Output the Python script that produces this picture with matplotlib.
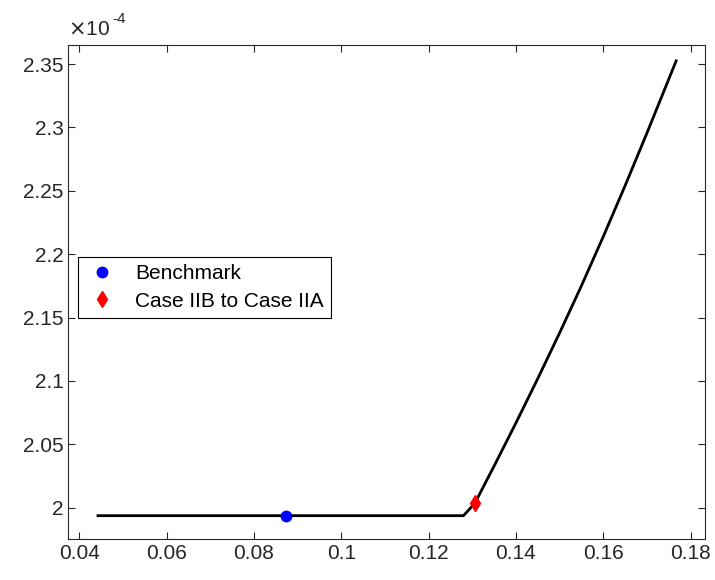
import matplotlib
matplotlib.use("Agg")
import matplotlib.pyplot as plt
from matplotlib.ticker import FormatStrFormatter

plt.rcParams['font.family'] = ['Liberation Sans', 'DejaVu Sans']

# curve data (y in units of 1e-4)
x_curve = [0.0443, 0.128, 0.1306, 0.135, 0.140, 0.145, 0.150, 0.155,
           0.160, 0.165, 0.170, 0.1767]
y_curve = [1.9937, 1.9937, 2.0035, 2.0328, 2.0668, 2.1018, 2.1378, 2.1750,
           2.2138, 2.2540, 2.2955, 2.3525]

# highlighted points
bench_x = [0.0873]
bench_y = [1.9937]
switch_x = [0.1306]
switch_y = [2.0035]

xticks = [0.04, 0.06, 0.08, 0.1, 0.12, 0.14, 0.16, 0.18]
yticks = [2.0, 2.05, 2.1, 2.15, 2.2, 2.25, 2.3, 2.35]

fig = plt.figure(figsize=(7.15, 5.8), dpi=100)
ax = fig.add_axes([0.0955, 0.0707, 0.8905, 0.8517])

ax.plot(x_curve, y_curve, color='black', linewidth=2.0, zorder=2)
ax.plot(bench_x, bench_y, 'o', color='blue', markersize=7.5, linestyle='none',
        label='Benchmark', zorder=3)
ax.plot(switch_x, switch_y, 'd', color='red', markersize=8, linestyle='none',
        label='Case IIB to Case IIA', zorder=3)

ax.set_xlim(0.0375, 0.1833)
ax.set_ylim(1.9753, 2.365)
ax.set_xticks(xticks)
ax.set_yticks(yticks)
ax.xaxis.set_major_formatter(FormatStrFormatter('%g'))
ax.yaxis.set_major_formatter(FormatStrFormatter('%g'))

axcol = (0.15, 0.15, 0.15)
for s in ax.spines.values():
    s.set_color(axcol)
    s.set_linewidth(0.8)
ax.tick_params(direction='in', top=True, right=True, length=5, width=0.8,
               color=axcol, labelcolor=axcol, labelsize=15)

# MATLAB-style exponent label
ax.text(0.0, 1.012, r'$\times$10', transform=ax.transAxes, fontsize=15,
        color=axcol, ha='left', va='bottom')
ax.text(0.0686, 1.067, '-4', transform=ax.transAxes, fontsize=11,
        color=axcol, ha='left', va='top')

leg = ax.legend(loc='upper left', bbox_to_anchor=(0.0152, 0.571), fontsize=15,
                frameon=True, fancybox=False, edgecolor='black', framealpha=1,
                borderpad=0.35, handlelength=1.6, handletextpad=0.8, labelspacing=0.4,
                borderaxespad=0)
leg.get_frame().set_linewidth(0.8)

fig.savefig('out.png', dpi=100)
